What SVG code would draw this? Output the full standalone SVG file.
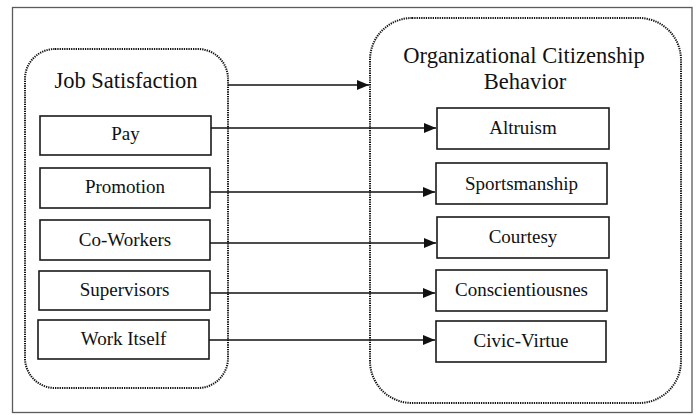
<svg xmlns="http://www.w3.org/2000/svg" width="698" height="415" viewBox="0 0 698 415">
<defs>
<marker id="arr" markerWidth="12" markerHeight="10" refX="12" refY="5" orient="auto" markerUnits="userSpaceOnUse">
<path d="M0,0 L12,5 L0,10 Z" fill="#111"/>
</marker>
<style>
.frame{fill:#fff;stroke:#5a5a5a;stroke-width:1.3}
.group{fill:none;stroke:#111;stroke-width:2;stroke-dasharray:1.3 1}
.box{fill:#fff;stroke:#1a1a1a;stroke-width:1.6}
.lbl{font-size:19px;fill:#111;text-anchor:middle}
.ttl{font-size:22.5px;fill:#111;text-anchor:middle}
.con{fill:none;stroke:#111;stroke-width:1.4;marker-end:url(#arr)}
</style>
</defs>
<rect width="698" height="415" fill="#fff"/>
<rect class="frame" x="12.5" y="7.5" width="679.5" height="405"/>
<g font-family="Liberation Serif, Times New Roman, DejaVu Serif, serif">
<g id="job-satisfaction">
<rect class="group" x="25" y="49" width="203" height="339" rx="30" ry="30"/>
<text class="ttl" x="126" y="88">Job Satisfaction</text>
</g>
<g id="ocb">
<rect class="group" x="370" y="18" width="311" height="385" rx="42" ry="42"/>
<text class="ttl" x="524" y="63">Organizational Citizenship</text>
<text class="ttl" x="525" y="89">Behavior</text>
</g>
<g id="pay"><rect class="box" x="40" y="116" width="171" height="39"/><text class="lbl" x="125.5" y="140">Pay</text></g>
<g id="promotion"><rect class="box" x="40" y="168" width="170" height="40"/><text class="lbl" x="125" y="193">Promotion</text></g>
<g id="co-workers"><rect class="box" x="40" y="220" width="170" height="40"/><text class="lbl" x="125" y="246">Co-Workers</text></g>
<g id="supervisors"><rect class="box" x="39" y="271" width="171" height="39"/><text class="lbl" x="124.5" y="296">Supervisors</text></g>
<g id="work-itself"><rect class="box" x="38" y="320" width="171" height="39"/><text class="lbl" x="123.5" y="345">Work Itself</text></g>
<g id="altruism"><rect class="box" x="437" y="108" width="172" height="41"/><text class="lbl" x="523" y="134">Altruism</text></g>
<g id="sportsmanship"><rect class="box" x="436" y="163" width="171" height="41"/><text class="lbl" x="521.5" y="190">Sportsmanship</text></g>
<g id="courtesy"><rect class="box" x="437" y="217" width="172" height="41"/><text class="lbl" x="523" y="243">Courtesy</text></g>
<g id="conscientiousnes"><rect class="box" x="436" y="270" width="171" height="41"/><text class="lbl" x="521.5" y="296">Conscientiousnes</text></g>
<g id="civic-virtue"><rect class="box" x="436" y="321" width="170" height="41"/><text class="lbl" x="521" y="347">Civic-Virtue</text></g>
</g>
<g id="connectors">
<line class="con" x1="228" y1="85" x2="369" y2="85"/>
<line class="con" x1="211" y1="128" x2="436" y2="128"/>
<line class="con" x1="210" y1="192" x2="435" y2="192"/>
<line class="con" x1="210" y1="243" x2="436" y2="243"/>
<line class="con" x1="210" y1="293" x2="435" y2="293"/>
<line class="con" x1="209" y1="340" x2="435" y2="340"/>
</g>
</svg>
